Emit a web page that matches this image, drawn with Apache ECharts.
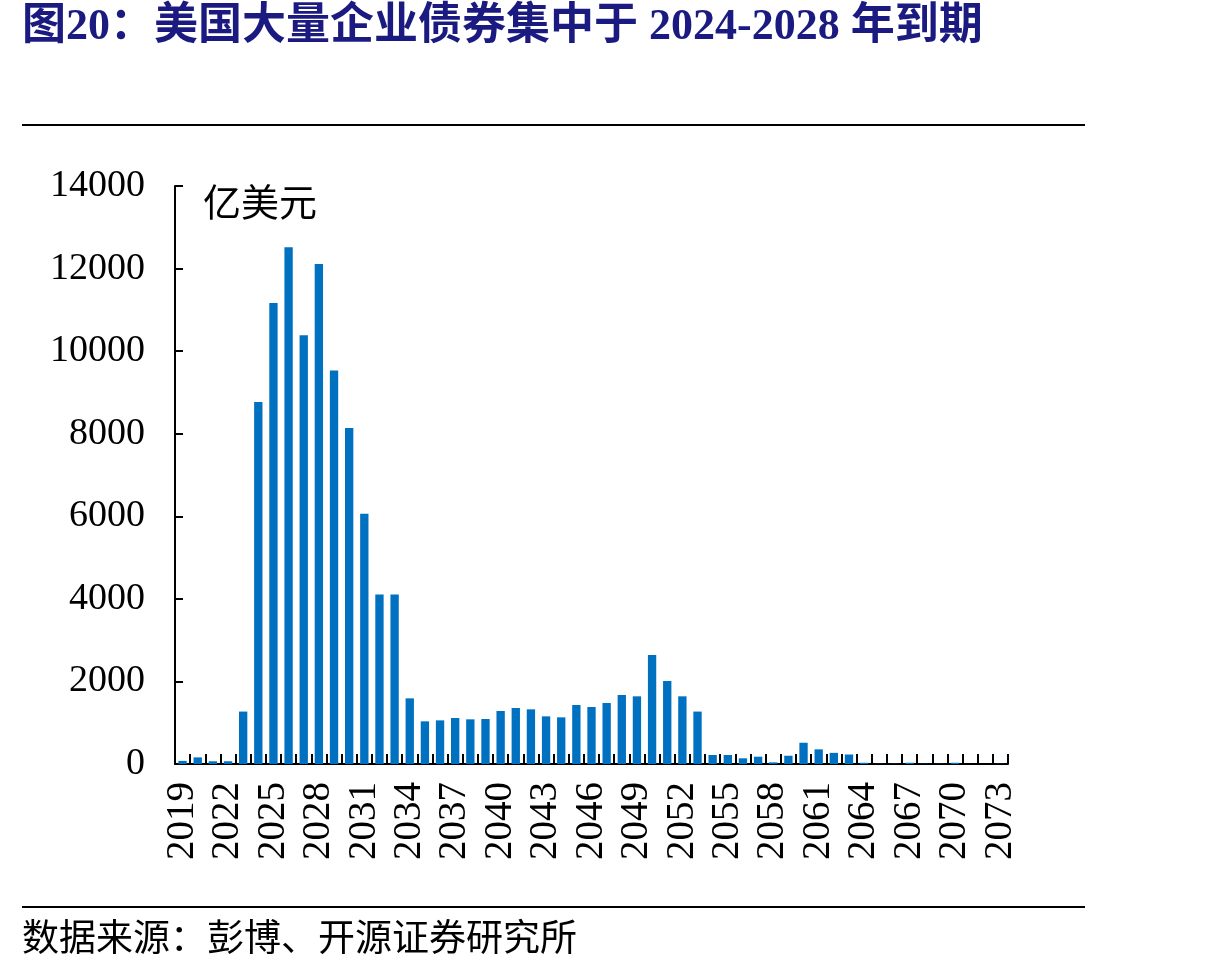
<!DOCTYPE html>
<html><head><meta charset="utf-8">
<script src="https://cdn.jsdelivr.net/npm/echarts@6/dist/echarts.min.js"></script>
<style>html,body{margin:0;padding:0;background:#fff}#c{width:1210px;height:973px}</style>
</head><body><div id="c"></div>
<script>
const years = [];
for (let y = 2019; y <= 2073; y++) years.push(String(y));
const values = [
  75, 160, 66, 66, 1270, 8768, 11166, 12515, 10382, 12110,
  9533, 8136, 6059, 4106, 4106, 1590, 1033, 1057, 1114, 1082,
  1090, 1284, 1356, 1324, 1154, 1130, 1429, 1380, 1477, 1671,
  1639, 2640, 2010, 1639, 1270, 218, 218, 138, 177, 40,
  200, 515, 355, 270, 230, 30, 5, 5, 30, 5,
  5, 30, 0, 0, 5
];
const yTicks = [0, 2000, 4000, 6000, 8000, 10000, 12000, 14000];
const titleText = '图20：美国大量企业债券集中于 2024-2028 年到期';
const unitText = '亿美元';
const sourceText = '数据来源：彭博、开源证券研究所';

const serif = '"Liberation Serif", "Times New Roman", serif';
const cjk = '"Liberation Serif", "Noto Sans CJK SC", serif';
const chart = echarts.init(document.getElementById('c'), null, {renderer: 'canvas'});
chart.setOption({
  animation: false,
  backgroundColor: '#fff',
  grid: {left: 175, right: 202, top: 186, bottom: 209, containLabel: false},
  graphic: [
    {type: 'text', left: 22, top: 6, style: {text: titleText, font: 'bold 44px ' + cjk, fill: '#1a1a80'}},
    {type: 'line', shape: {x1: 22, y1: 125, x2: 1085, y2: 125}, style: {stroke: '#000', lineWidth: 2}},
    {type: 'line', shape: {x1: 22, y1: 907, x2: 1085, y2: 907}, style: {stroke: '#000', lineWidth: 2}},
    {type: 'text', left: 22, top: 918, style: {text: sourceText, font: '37px "Noto Sans CJK SC", serif', fill: '#000'}},
    {type: 'text', left: 203, top: 183, style: {text: unitText, font: '38px "Noto Sans CJK SC", serif', fill: '#000'}}
  ],
  xAxis: {
    type: 'category',
    data: years,
    boundaryGap: true,
    axisLine: {lineStyle: {color: '#000', width: 2}},
    axisTick: {show: true, inside: true, length: 10, interval: 0, lineStyle: {color: '#000', width: 2}},
    axisLabel: {interval: 2, rotate: 90, margin: 18, color: '#000', fontSize: 39, fontFamily: serif}
  },
  yAxis: {
    type: 'value',
    min: 0, max: 14000, interval: 2000,
    splitLine: {show: false},
    axisLine: {show: true, lineStyle: {color: '#000', width: 2}},
    axisTick: {show: true, inside: true, length: 8, lineStyle: {color: '#000', width: 2}},
    axisLabel: {margin: 30, color: '#000', fontSize: 38, fontFamily: serif,
      formatter: v => yTicks.includes(v) ? String(v) : ''}
  },
  series: [{
    type: 'bar',
    data: values,
    barWidth: '55%',
    itemStyle: {color: '#0070C0'}
  }]
});
</script></body></html>
